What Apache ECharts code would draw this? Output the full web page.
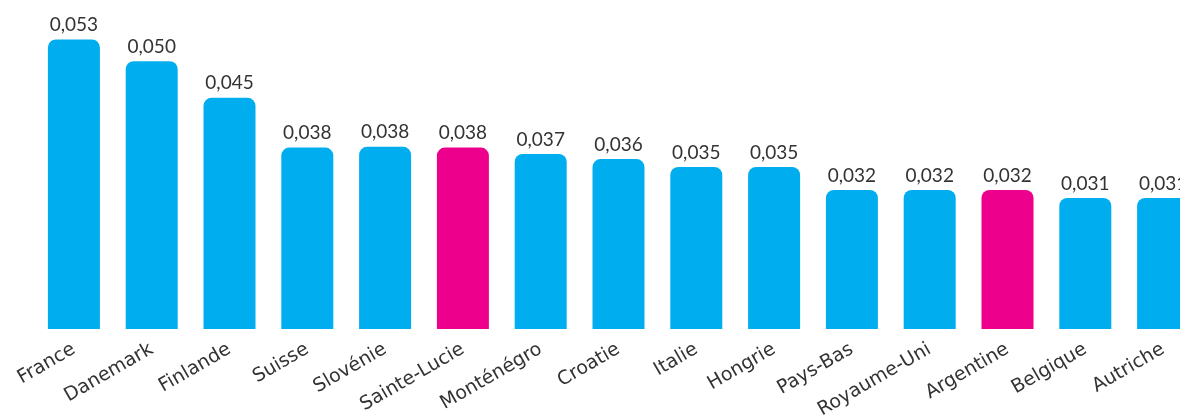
<!DOCTYPE html>
<html>
<head>
<meta charset="utf-8">
<script src="https://cdn.jsdelivr.net/npm/echarts@6/dist/echarts.min.js"></script>
<style>
  html, body { margin: 0; padding: 0; background: #fff; }
  #chart { width: 1180px; height: 415px; }
</style>
</head>
<body>
<div id="chart"></div>
<script>
// pays et valeurs
var pays = ['France', 'Danemark', 'Finlande', 'Suisse', 'Slovénie', 'Sainte-Lucie', 'Monténégro',
  'Croatie', 'Italie', 'Hongrie', 'Pays-Bas', 'Royaume-Uni', 'Argentine', 'Belgique', 'Autriche'];
var valeurs = [0.0530, 0.0500, 0.0449, 0.0380, 0.0381, 0.0380, 0.0371,
  0.0364, 0.0353, 0.0353, 0.0321, 0.0321, 0.0321, 0.0310, 0.0310];
var enAvant = ['Sainte-Lucie', 'Argentine'];

var bleu = '#00AEEF';
var rose = '#EC008C';

var box = document.getElementById('chart');
var chart = echarts.init(box);

var data = valeurs.map(function (v, i) {
  return {
    value: v,
    itemStyle: { color: enAvant.indexOf(pays[i]) >= 0 ? rose : bleu }
  };
});

var option = {
  animation: false,
  grid: {
    left: 35,
    top: 10,
    width: 1167,
    bottom: 86,
    outerBoundsMode: 'none',
    containLabel: false
  },
  xAxis: {
    type: 'category',
    data: pays,
    axisLine: { show: false },
    axisTick: { show: false },
    axisLabel: {
      rotate: 30,
      margin: 19,
      color: '#333',
      fontSize: 19,
      fontFamily: 'DejaVu Sans'
    }
  },
  yAxis: {
    type: 'value',
    min: 0.0128,
    max: 0.0571,
    show: false,
    splitLine: { show: false }
  },
  series: [{
    type: 'bar',
    data: data,
    barWidth: 52,
    itemStyle: { borderRadius: [8, 8, 0, 0] },
    label: {
      show: true,
      position: 'top',
      distance: 5,
      color: '#333',
      fontSize: 19,
      fontFamily: 'Lato',
      formatter: function (p) {
        return p.value.toFixed(3).replace('.', ',');
      }
    }
  }]
};
chart.setOption(option);
</script>
</body>
</html>
